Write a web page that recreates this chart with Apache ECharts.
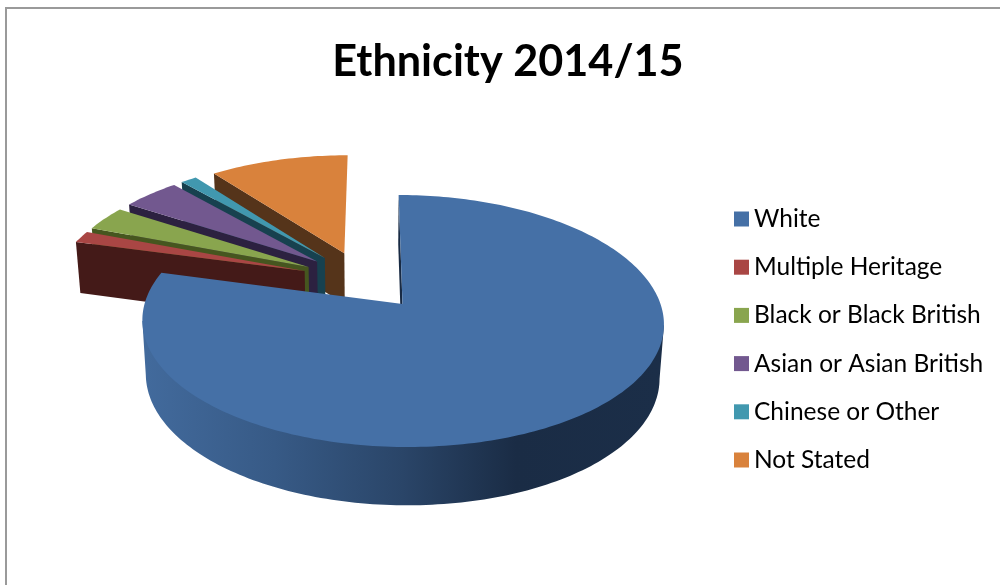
<!DOCTYPE html>
<html>
<head>
<meta charset="utf-8">
<title>Ethnicity 2014/15</title>
<style>
  html, body { margin: 0; padding: 0; background: #fff; }
  #chart { width: 1000px; height: 585px; }
</style>
<script src="https://cdn.jsdelivr.net/npm/echarts@6/dist/echarts.min.js"></script>
</head>
<body>
<div id="chart"></div>
<script>
// Chart content
const titleText = 'Ethnicity 2014/15';
const categories = ['White', 'Multiple Heritage', 'Black or Black British', 'Asian or Asian British', 'Chinese or Other', 'Not Stated'];
const shares = [79.2, 1.6, 3.3, 4.3, 1.2, 10.4];

// Slice styling, in the same order as the categories
const topColors = ['#4570A6', '#A94644', '#89A54E', '#72588F', '#4198AF', '#D9823C'];
const wallColors = ['#182A43', '#441A18', '#46561F', '#2C2140', '#17414F', '#55341A'];
// Nearest slices paint last, so they cover the walls of those behind them
const paintLayers = [5, 4, 3, 2, 1, 0];

// Perspective of the pie plane
const VANISH_X = 372, ORIGIN_X_OFFSET = 30.5, ORIGIN_Y = 304;
const RADIUS_X = 258, RADIUS_Y = 123.7, PERSPECTIVE_X = 0.145, PERSPECTIVE_Y = 0.135;
const EXPLODE = 0.25, WALL_HEIGHT = 53.2, WALL_INSET = 0.985;

const total = shares.reduce((a, b) => a + b, 0);

function projectTop(u, v) {
  const kx = 1 / (1 - PERSPECTIVE_X * v);
  const ky = 1 / (1 - PERSPECTIVE_Y * v);
  return [VANISH_X + (RADIUS_X * u + ORIGIN_X_OFFSET) * kx, ORIGIN_Y + RADIUS_Y * v * ky];
}
function projectBottom(u, v) {
  const ky = 1 / (1 - PERSPECTIVE_Y * v);
  const p = projectTop(u, v);
  return [VANISH_X + (p[0] - VANISH_X) * WALL_INSET, p[1] + WALL_HEIGHT * Math.pow(ky, 0.63)];
}

// Clockwise from twelve o'clock, as a pie draws them
function direction(angle) {
  return [Math.sin(angle), -Math.cos(angle)];
}
function sliceRange(index) {
  let before = 0;
  for (let i = 0; i < index; i++) before += shares[i];
  return [before / total * 2 * Math.PI, (before + shares[index]) / total * 2 * Math.PI];
}
// The first slice stays on the projection origin; every slice moves out along its bisector
function sliceCentre(index) {
  const first = sliceRange(0);
  const firstDir = direction((first[0] + first[1]) / 2);
  const range = sliceRange(index);
  const dir = direction((range[0] + range[1]) / 2);
  return [EXPLODE * (dir[0] - firstDir[0]), EXPLODE * (dir[1] - firstDir[1])];
}

const wallGradient = new echarts.graphic.LinearGradient(146, 0, 660, 0, [
  { offset: 0, color: '#426A9C' },
  { offset: 0.25, color: '#375A86' },
  { offset: 0.5, color: '#2A4568' },
  { offset: 0.72, color: '#1A2C45' },
  { offset: 1, color: '#1B2E48' }
], true);

function polygon(points, fill, z2) {
  return {
    type: 'polygon',
    z2: z2,
    shape: { points: points },
    style: { fill: fill }
  };
}

// Index of the extreme point of a projected arc along x
function extremeIndex(points, sign) {
  let best = 0;
  points.forEach((p, i) => { if (sign * p[0] > sign * points[best][0]) best = i; });
  return best;
}

function drawSlice(index) {
  const range = sliceRange(index);
  const c = sliceCentre(index);
  const steps = Math.max(4, Math.ceil((range[1] - range[0]) / 0.02));
  const arc = [];
  for (let i = 0; i <= steps; i++) {
    const d = direction(range[0] + (range[1] - range[0]) * i / steps);
    arc.push([c[0] + d[0], c[1] + d[1]]);
  }
  const topArc = arc.map(a => projectTop(a[0], a[1]));
  const bottomArc = arc.map(a => projectBottom(a[0], a[1]));
  const apexTop = projectTop(c[0], c[1]);
  const apexBottom = projectBottom(c[0], c[1]);

  const children = [
    polygon([apexTop, topArc[0], bottomArc[0], apexBottom], wallColors[index], 1)
  ];

  // Only the stretch between the rim's right and left extremes faces the viewer;
  // slices lying wholly at the back have no outer wall to show.
  // The wall closes along a chord under the top face, so no seam opens at the rim.
  const topFrom = extremeIndex(topArc, 1), topTo = extremeIndex(topArc, -1);
  const bottomFrom = extremeIndex(bottomArc, 1), bottomTo = extremeIndex(bottomArc, -1);
  if (topFrom < topTo && bottomFrom < bottomTo) {
    const outerWall = [topArc[topFrom], topArc[topTo]]
      .concat(bottomArc.slice(bottomFrom, bottomTo + 1).reverse());
    children.push(polygon(outerWall, wallGradient, 2));
  }

  children.push(polygon([apexTop].concat(topArc), topColors[index], 3));
  return { type: 'group', children: children };
}

const chart = echarts.init(document.getElementById('chart'), null, { renderer: 'canvas' });
chart.setOption({
  animation: false,
  backgroundColor: '#fff',
  title: {
    text: titleText,
    left: 503,
    top: 36,
    textAlign: 'center',
    textStyle: { fontFamily: 'Lato', fontWeight: 'bold', fontSize: 43.2, color: '#000' }
  },
  legend: {
    data: categories,
    orient: 'vertical',
    left: 729,
    top: 201,
    itemWidth: 15,
    itemHeight: 15,
    itemGap: 22.2,
    icon: 'rect',
    selectedMode: false,
    textStyle: { fontFamily: 'Lato', fontSize: 24.5, color: '#000', lineHeight: 26 }
  },
  graphic: [
    {
      type: 'polyline',
      silent: true,
      shape: { points: [[6, 600], [6, 8], [1010, 8]] },
      style: { fill: 'none', stroke: '#9A9A9A', lineWidth: 2 }
    }
  ],
  series: categories.map((name, i) => ({
    type: 'custom',
    name: name,
    coordinateSystem: 'none',
    z: 2 + paintLayers[i],
    itemStyle: { color: topColors[i] },
    data: [[shares[i]]],
    renderItem: () => drawSlice(i)
  }))
});
</script>
</body>
</html>
